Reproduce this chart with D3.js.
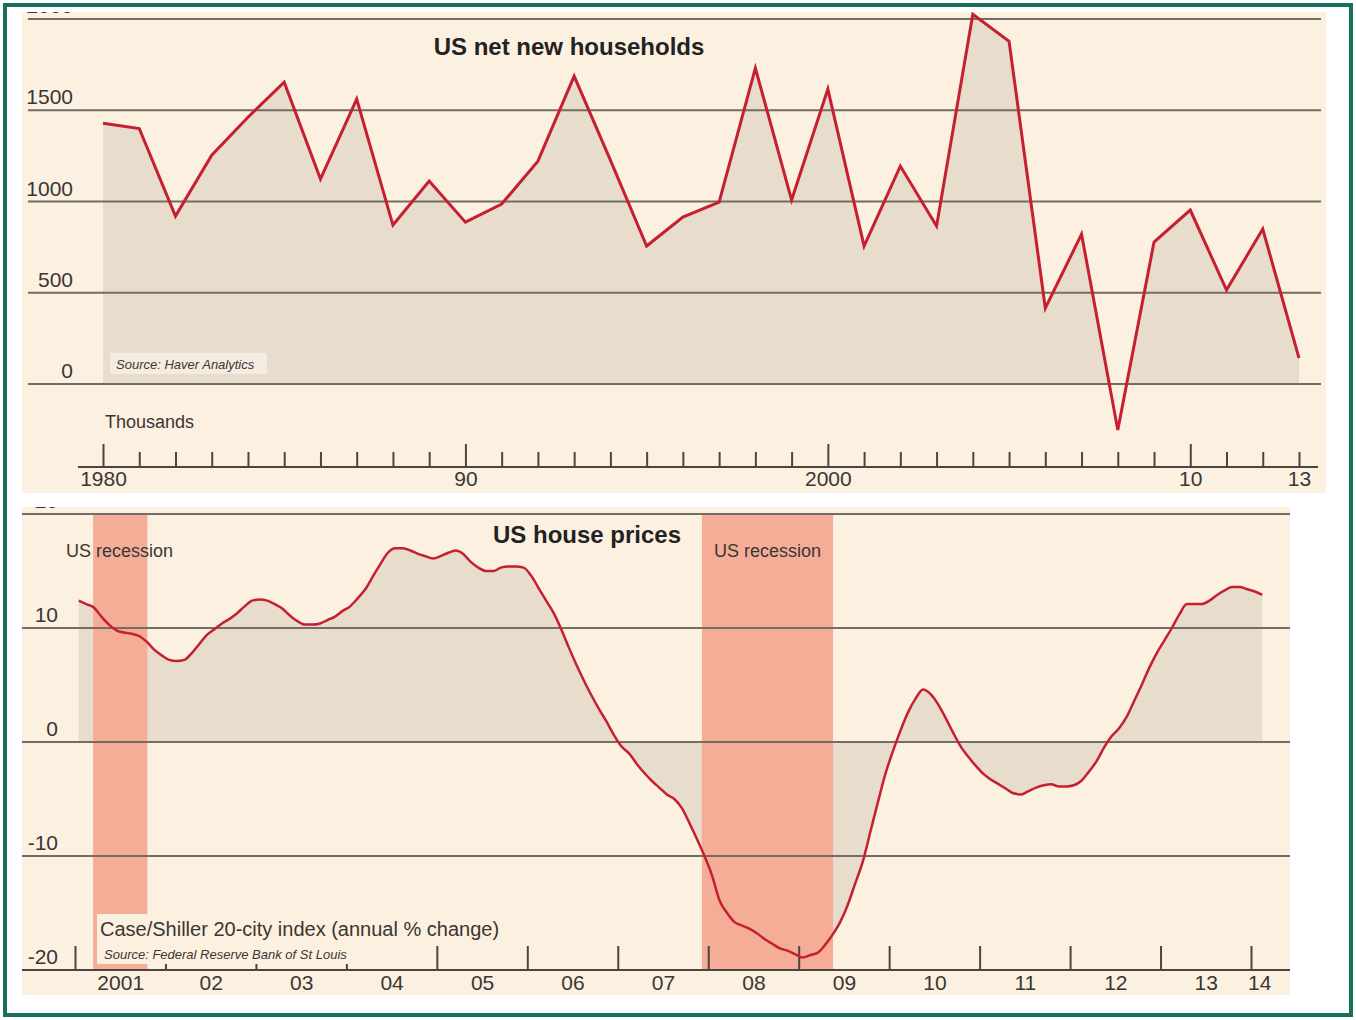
<!DOCTYPE html>
<html>
<head>
<meta charset="utf-8">
<script src="https://cdn.jsdelivr.net/npm/d3@7"></script>
<style>
  html, body { margin: 0; padding: 0; background: #ffffff; }
  svg { display: block; }
  text { font-family: "Liberation Sans", Arial, sans-serif; fill: #3a3633; }
</style>
</head>
<body>
<svg id="chart" width="1356" height="1020"></svg>
<script>
// ---------------- DATA ----------------
// Top chart: US net new households (thousands), annual 1980-2013
const hhYears = d3.range(1980, 2014);
const hhValues = [1429, 1400, 920, 1254, 1462, 1654, 1123, 1561, 871, 1112,
                  887, 986, 1221, 1687, 1227, 756, 915, 997, 1731, 1008,
                  1616, 756, 1194, 865, 2026, 1878, 416, 821, -252, 778,
                  953, 515, 849, 142];
const hhYTicks = [0, 500, 1000, 1500, 2000];
const hhMajorTicks = [1980, 1990, 2000, 2010];
const hhTickLabels = {1980: "1980", 1990: "90", 2000: "2000", 2010: "10", 2013: "13"};

// Bottom chart: Case/Shiller 20-city index, annual % change, monthly Jan 2001 - Feb 2014
const csStartYear = 2001;
const cs2001 = [12.4, 12.1, 11.8, 11.0, 10.3, 9.8, 9.6, 9.5, 9.3, 8.8, 8.1, 7.6];
const cs2002 = [7.2, 7.1, 7.2, 7.8, 8.6, 9.4, 9.9, 10.4, 10.8, 11.3, 11.9, 12.4];
const cs2003 = [12.5, 12.4, 12.1, 11.7, 11.1, 10.6, 10.3, 10.3, 10.4, 10.7, 11.0, 11.5];
const cs2004 = [11.9, 12.6, 13.4, 14.5, 15.6, 16.6, 17.0, 17.0, 16.8, 16.5, 16.3, 16.1];
const cs2005 = [16.3, 16.6, 16.8, 16.5, 15.8, 15.3, 15.0, 15.0, 15.3, 15.4, 15.4, 15.3];
const cs2006 = [14.6, 13.5, 12.4, 11.3, 9.9, 8.3, 6.8, 5.4, 4.1, 2.9, 1.8, 0.6];
const cs2007 = [-0.4, -1.0, -1.9, -2.7, -3.4, -4.0, -4.6, -5.0, -5.8, -7.1, -8.5, -10.0];
const cs2008 = [-11.7, -13.9, -15.0, -15.8, -16.1, -16.4, -16.8, -17.3, -17.7, -18.1, -18.3, -18.6];
const cs2009 = [-18.9, -18.7, -18.5, -17.8, -16.9, -15.8, -14.3, -12.4, -10.5, -7.9, -5.3, -2.8];
const cs2010 = [-0.8, 1.0, 2.6, 3.8, 4.6, 4.2, 3.3, 2.1, 0.8, -0.4, -1.3, -2.1];
const cs2011 = [-2.8, -3.3, -3.7, -4.1, -4.5, -4.6, -4.3, -4.0, -3.8, -3.7, -3.9, -3.9];
const cs2012 = [-3.8, -3.4, -2.6, -1.7, -0.5, 0.5, 1.2, 2.2, 3.6, 5.0, 6.5, 7.8];
const cs2013 = [8.9, 10.0, 11.2, 12.1, 12.1, 12.1, 12.4, 12.9, 13.3, 13.6, 13.6, 13.4];
const cs2014 = [13.2, 12.9];
const csYTicks = [-20, -10, 0, 10, 20];
const csYearTicks = d3.range(2001, 2015);
const csXLabels = ["2001", "02", "03", "04", "05", "06", "07", "08", "09", "10", "11", "12", "13", "14"];
const recessions = [[2001.2, 2001.8], [2007.93, 2009.38]];

// ---------------- COLOURS ----------------
const C = {
  panel: "#fcf0e0", area: "#e8ddcd", line: "#c51f30", grid: "#736d66",
  band: "#f6ad98", border: "#17705c", srcBox: "#f5ece1", text: "#3a3633", axis: "#4a4541"
};
const FONT = "Liberation Sans, Arial, sans-serif";

const svg = d3.select("#chart");

// outer green frame
svg.append("rect").attr("x", 5).attr("y", 5).attr("width", 1346).attr("height", 1010)
  .attr("fill", "#ffffff").attr("stroke", C.border).attr("stroke-width", 4);

// ================= TOP CHART =================
const gTop = svg.append("g");
const tp = {x0: 22, y0: 12, x1: 1326, y1: 493};
const defs = svg.append("defs");
defs.append("clipPath").attr("id", "clipTop").append("rect")
  .attr("x", tp.x0).attr("y", tp.y0).attr("width", tp.x1 - tp.x0).attr("height", tp.y1 - tp.y0);
const topC = gTop.append("g").attr("clip-path", "url(#clipTop)");
topC.append("rect").attr("x", tp.x0).attr("y", tp.y0).attr("width", tp.x1 - tp.x0).attr("height", tp.y1 - tp.y0)
  .attr("fill", C.panel);

const xH = d3.scaleLinear().domain([1980, 2013]).range([103, 1299]);
const yH = d3.scaleLinear().domain([0, 2000]).range([384, 19]);
const hhData = hhYears.map((y, i) => ({t: y, v: hhValues[i]}));

// area only above zero
defs.append("clipPath").attr("id", "clipPos").append("rect")
  .attr("x", tp.x0).attr("y", tp.y0).attr("width", tp.x1 - tp.x0).attr("height", yH(0) - tp.y0);
topC.append("path").datum(hhData).attr("clip-path", "url(#clipPos)")
  .attr("d", d3.area().x(d => xH(d.t)).y0(yH(0)).y1(d => yH(d.v)))
  .attr("fill", C.area);

// gridlines
topC.selectAll(".gh").data(hhYTicks).join("line")
  .attr("x1", 28).attr("x2", 1321).attr("y1", d => yH(d)).attr("y2", d => yH(d))
  .attr("stroke", C.grid).attr("stroke-width", 2);
topC.selectAll(".gl").data(hhYTicks).join("text")
  .attr("x", 73).attr("y", d => yH(d) - 6).attr("text-anchor", "end")
  .attr("font-size", 21).text(d => d);

// source box
topC.append("rect").attr("x", 110).attr("y", 353).attr("width", 157).attr("height", 21).attr("fill", C.srcBox);
topC.append("text").attr("x", 116).attr("y", 369).attr("font-size", 13).attr("font-style", "italic")
  .text("Source: Haver Analytics");

// line
topC.append("path").datum(hhData)
  .attr("d", d3.line().x(d => xH(d.t)).y(d => yH(d.v)))
  .attr("fill", "none").attr("stroke", C.line).attr("stroke-width", 3).attr("stroke-linejoin", "miter");

// title
topC.append("text").attr("x", 569).attr("y", 55).attr("text-anchor", "middle")
  .attr("font-size", 24).attr("font-weight", "bold").style("fill", "#222").text("US net new households");

topC.append("text").attr("x", 105).attr("y", 428).attr("font-size", 18).text("Thousands");

// x axis
const axT = topC.append("g").attr("transform", "translate(0,467)");
axT.call(d3.axisBottom(xH).tickValues(hhYears).tickSize(-15).tickPadding(4)
  .tickFormat(d => hhTickLabels[d] || ""));
axT.select(".domain").remove();
axT.selectAll(".tick line").attr("stroke", C.axis).attr("stroke-width", 2)
  .attr("y2", d => hhMajorTicks.includes(d) ? -23 : -15);
axT.selectAll(".tick text").attr("font-size", 21).style("fill", C.text).attr("font-family", FONT);
axT.append("line").attr("x1", 78).attr("x2", 1318).attr("y1", 0).attr("y2", 0)
  .attr("stroke", C.axis).attr("stroke-width", 2);

// ================= BOTTOM CHART =================
const gBot = svg.append("g");
const bp = {x0: 22, y0: 507, x1: 1290, y1: 995};
defs.append("clipPath").attr("id", "clipBot").append("rect")
  .attr("x", bp.x0).attr("y", bp.y0).attr("width", bp.x1 - bp.x0).attr("height", bp.y1 - bp.y0);
const botC = gBot.append("g").attr("clip-path", "url(#clipBot)");
botC.append("rect").attr("x", bp.x0).attr("y", bp.y0).attr("width", bp.x1 - bp.x0).attr("height", bp.y1 - bp.y0)
  .attr("fill", C.panel);

const xC = d3.scaleLinear().domain([2001, 2014]).range([75, 1251]);
const yC = d3.scaleLinear().domain([-20, 20]).range([970, 514]);
const csAll = [].concat(cs2001, cs2002, cs2003, cs2004, cs2005, cs2006, cs2007,
                        cs2008, cs2009, cs2010, cs2011, cs2012, cs2013, cs2014);
const csData = csAll.map((v, i) => ({t: csStartYear + i / 12 + 1 / 24, v: v}));

botC.append("path").datum(csData)
  .attr("d", d3.area().curve(d3.curveMonotoneX).x(d => xC(d.t)).y0(yC(0)).y1(d => yC(d.v)))
  .attr("fill", C.area);

// recession bands
botC.selectAll(".band").data(recessions).join("rect")
  .attr("x", d => xC(d[0])).attr("width", d => xC(d[1]) - xC(d[0]))
  .attr("y", yC(20)).attr("height", yC(-20) - yC(20))
  .attr("fill", C.band);

// x axis ticks
const axB = botC.append("g").attr("transform", "translate(0,970)");
axB.call(d3.axisBottom(xC).tickValues(csYearTicks).tickSize(-24).tickFormat(""));
axB.select(".domain").remove();
axB.selectAll(".tick line").attr("stroke", C.axis).attr("stroke-width", 2);

// caption box covering band
botC.append("rect").attr("x", 97).attr("y", 914).attr("width", 305).attr("height", 50).attr("fill", C.panel);

// gridlines
botC.selectAll(".gc").data(csYTicks).join("line")
  .attr("x1", 22).attr("x2", 1290).attr("y1", d => yC(d)).attr("y2", d => yC(d))
  .attr("stroke", d => d === -20 ? C.axis : C.grid).attr("stroke-width", 2);
botC.selectAll(".gcl").data(csYTicks).join("text")
  .attr("x", 58).attr("y", d => yC(d) - 6).attr("text-anchor", "end")
  .attr("font-size", 21).text(d => d < 0 ? "-" + Math.abs(d) : d);

// x axis labels (mid-year, last one just after 2014)
const labelPos = csYearTicks.map((y, i) => i === csYearTicks.length - 1 ? y + 0.09 : y + 0.5);
const axBL = botC.append("g").attr("transform", "translate(0,970)");
axBL.call(d3.axisBottom(xC).tickValues(labelPos).tickSize(0).tickPadding(5)
  .tickFormat((d, i) => csXLabels[i]));
axBL.select(".domain").remove();
axBL.selectAll(".tick text").attr("font-size", 21).style("fill", C.text).attr("font-family", FONT);

// line
botC.append("path").datum(csData)
  .attr("d", d3.line().curve(d3.curveMonotoneX).x(d => xC(d.t)).y(d => yC(d.v)))
  .attr("fill", "none").attr("stroke", C.line).attr("stroke-width", 2.5);

// labels
botC.append("text").attr("x", 587).attr("y", 543).attr("text-anchor", "middle")
  .attr("font-size", 24).attr("font-weight", "bold").style("fill", "#222").text("US house prices");
botC.selectAll(".rl").data(recessions).join("text")
  .attr("x", (d, i) => i === 0 ? 66 : 714).attr("y", 557)
  .attr("font-size", 18).text("US recession");
botC.append("text").attr("x", 100).attr("y", 936).attr("font-size", 20)
  .text("Case/Shiller 20-city index (annual % change)");
botC.append("text").attr("x", 104).attr("y", 959).attr("font-size", 13).attr("font-style", "italic")
  .text("Source: Federal Reserve Bank of St Louis");
</script>
</body>
</html>
